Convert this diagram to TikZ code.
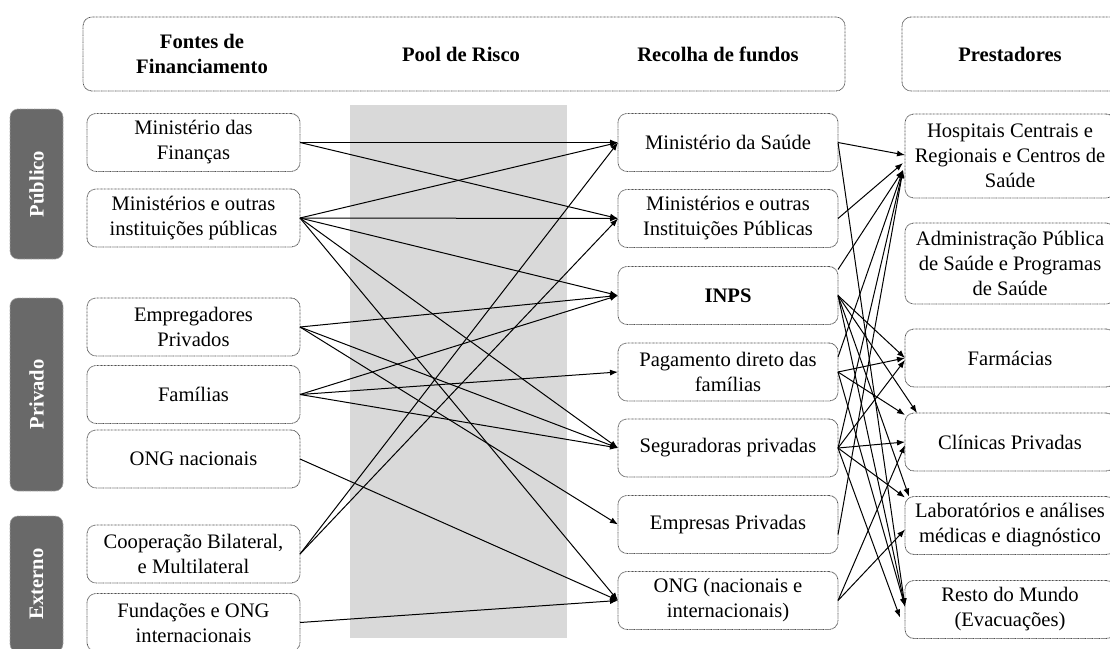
\documentclass[tikz,border=0pt]{standalone}
\usepackage{fontspec}
\setmainfont{Liberation Serif}
\usetikzlibrary{arrows.meta,calc}
\definecolor{poolgray}{RGB}{217,217,217}
\definecolor{sidegray}{RGB}{105,105,105}
\definecolor{bordergray}{RGB}{80,80,80}
\begin{document}
\begin{tikzpicture}[x=1pt,y=-1pt,
  every node/.style={inner sep=0pt, outer sep=0pt},
  box/.style={draw=bordergray, line width=0.8pt, dash pattern=on 0.8pt off 0.6pt,
    rounded corners=9pt, fill=white, align=center, font=\fontsize{20.6}{25}\selectfont},
  lbox/.style={box, minimum width=213pt, minimum height=58pt},
  mbox/.style={box, minimum width=220pt, minimum height=58pt},
  rbox/.style={box, minimum width=210pt, minimum height=58pt},
  hdrbox/.style={box, minimum height=74pt},
  side/.style={fill=sidegray, draw=sidegray!60, line width=0.7pt, dash pattern=on 0.8pt off 0.6pt,
    rounded corners=8pt, rotate=90, minimum height=53pt, text=white,
    font=\bfseries\fontsize{20.6}{24}\selectfont},
  hdr/.style={font=\bfseries\fontsize{20.6}{25}\selectfont, align=center},
  flow/.style={draw=black, line width=1pt, -{Latex[length=8pt,width=6pt]}}
]
\useasboundingbox (0,0) rectangle (1110,648);

% pool column
\fill[poolgray] (350,105) rectangle (567,638);

% headers
\node[hdrbox, minimum width=762pt] (hA) at (464,54) {};
\node[hdrbox, minimum width=225pt] (hB) at (1014.5,54) {};
\node[hdr] (t1) at (202,54) {Fontes de\\Financiamento};
\node[hdr] (t2) at (461,54) {Pool de Risco};
\node[hdr] (t3) at (718,54) {Recolha de fundos};
\node[hdr] (t4) at (1010,54) {Prestadores};

% side labels
\node[side, minimum width=150pt] (sPub) at (36.5,184) {Público};
\node[side, minimum width=193pt] (sPri) at (36.5,394.5) {Privado};
\node[side, minimum width=136pt] (sExt) at (36.5,584) {Externo};

% sources
\node[lbox] (f1) at (193.5,142.5) {Ministério das\\Finanças};
\node[lbox] (f2) at (193.5,218) {Ministérios e outras\\instituições públicas};
\node[lbox] (f3) at (193.5,327) {Empregadores\\Privados};
\node[lbox] (f4) at (193.5,394.5) {Famílias};
\node[lbox] (f5) at (193.5,459) {ONG nacionais};
\node[lbox] (f6) at (193.5,554) {Cooperação Bilateral,\\e Multilateral};
\node[lbox] (f7) at (193.5,622.5) {Fundações e ONG\\internacionais};

% agents
\node[mbox] (m1) at (728,142.5) {Ministério da Saúde};
\node[mbox] (m2) at (728,218.5) {Ministérios e outras\\Instituições Públicas};
\node[mbox] (m3) at (728,295.5) {\bfseries INPS};
\node[mbox] (m4) at (728,372) {Pagamento direto das\\famílias};
\node[mbox] (m5) at (728,448) {Seguradoras privadas};
\node[mbox] (m6) at (728,524.5) {Empresas Privadas};
\node[mbox] (m7) at (728,600.5) {ONG (nacionais e\\internacionais)};

% providers
\node[rbox, minimum height=84pt] (r1) at (1010,156) {Hospitais Centrais e\\Regionais e Centros de\\Saúde};
\node[rbox, minimum height=81pt] (r2) at (1010,263.5) {Administração Pública\\de Saúde e Programas\\de Saúde};
\node[rbox] (r3) at (1010,358) {Farmácias};
\node[rbox] (r4) at (1010,442) {Clínicas Privadas};
\node[rbox] (r5) at (1010,525.5) {Laboratórios e análises\\médicas e diagnóstico};
\node[rbox] (r6) at (1010,609.5) {Resto do Mundo\\(Evacuações)};

% sources -> agents
\draw[flow] (f1.east) -- (m1.west);
\draw[flow] (f1.east) -- (m2.west);
\draw[flow] (f2.east) -- (m1.west);
\draw[flow] (f2.east) -- (m2.west);
\draw[flow] (f2.east) -- (m3.west);
\draw[flow] (f2.east) -- (m5.west);
\draw[flow] (f2.east) -- (m7.west);
\draw[flow] (f3.east) -- (m3.west);
\draw[flow] (f3.east) -- (m5.west);
\draw[flow] (f3.east) -- (m6.west);
\draw[flow] (f4.east) -- (m3.west);
\draw[flow] (f4.east) -- (m4.west);
\draw[flow] (f4.east) -- (m5.west);
\draw[flow] (f5.east) -- (m7.west);
\draw[flow] (f6.east) -- (m1.west);
\draw[flow] (f6.east) -- (m2.west);
\draw[flow] (f7.east) -- (m7.west);

% agents -> providers
\draw[flow] (m1.east) -- ($(r1.west)+(0,-1)$);
\draw[flow] (m1.east) -- ($(r6.west)+(0,-3)$);
\draw[flow] (m2.east) -- ($(r1.west)+(-2,7)$);
\draw[flow] ($(m3.north east)+(0,3)$) -- ($(r1.west)+(-2,14)$);
\draw[flow] (m3.east) -- (r3.west);
\draw[flow] (m3.east) -- ($(r4.north west)+(12,0)$);
\draw[flow] (m3.east) -- ($(r5.north west)+(4,0)$);
\draw[flow] (m3.east) -- ($(r6.west)+(0,-3)$);
\draw[flow] ($(m4.north east)+(0,14)$) -- ($(r1.west)+(-2,14)$);
\draw[flow] (m4.east) -- (r3.west);
\draw[flow] (m4.east) -- ($(r4.north west)+(0,2)$);
\draw[flow] (m4.east) -- ($(r6.west)+(0,-3)$);
\draw[flow] (m5.east) -- ($(r1.west)+(-2,14)$);
\draw[flow] (m5.east) -- ($(r3.west)+(0,2)$);
\draw[flow] (m5.east) -- (r4.west);
\draw[flow] (m5.east) -- ($(r5.north west)+(0,1)$);
\draw[flow] (m5.east) -- ($(r6.west)+(-5,8)$);
\draw[flow] ($(m6.east)+(0,10)$) -- ($(r1.west)+(-2,14)$);
\draw[flow] (m7.east) -- ($(r4.west)+(0,3)$);
\draw[flow] (m7.east) -- ($(r5.west)+(0,4)$);
\end{tikzpicture}
\end{document}
